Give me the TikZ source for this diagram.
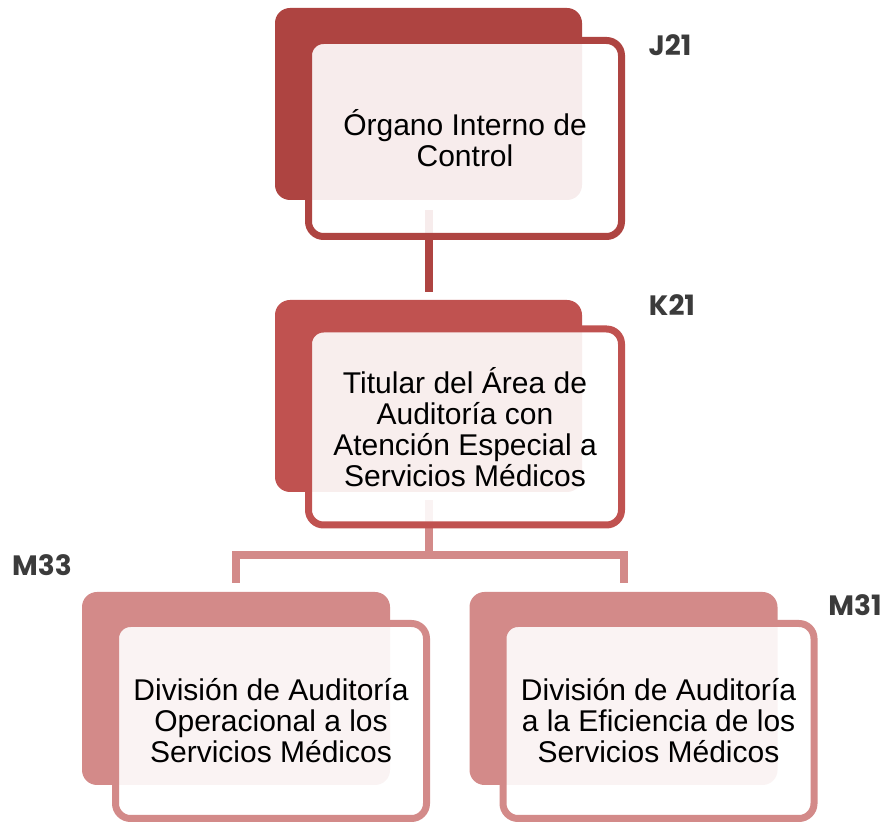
\documentclass[tikz,border=0pt]{standalone}
\usepackage{fontspec}
\setmainfont{Liberation Sans}
\newfontfamily\clavefont{Poppins}
\usetikzlibrary{backgrounds}
\definecolor{rojoA}{RGB}{174,68,65}
\definecolor{rojoB}{RGB}{192,82,80}
\definecolor{rojoC}{RGB}{211,138,137}
\definecolor{gristxt}{RGB}{59,59,59}
\tikzset{
  backbox/.style={rectangle, rounded corners=15pt, inner sep=0pt, outer sep=0pt,
    minimum width=307pt, minimum height=192pt},
  frontbox/.style={rectangle, rounded corners=15pt, line width=7pt, inner sep=0pt,
    outer sep=0pt, minimum width=313pt, minimum height=196pt,
    fill=white, fill opacity=0.9, text opacity=1, align=center,
    font=\fontsize{30}{31}\selectfont},
  link/.style={line width=8pt},
  clave/.style={text=gristxt, font=\clavefont\bfseries\fontsize{28}{30}\selectfont}
}
\begin{document}
\begin{tikzpicture}[x=1pt, y=1pt]
    \useasboundingbox (0,0) rectangle (889,824);
    % boxes
    \node[backbox, fill=rojoA] (oicb) at (428.5,720) {};
    \node[frontbox, draw=rojoA] (oic) at (465,685.5) {Órgano Interno de\\Control};
    \node[backbox, fill=rojoB] (titb) at (428.5,428) {};
    \node[frontbox, draw=rojoB] (tit) at (465,397)
        {Titular del Área de\\Auditoría con\\Atención Especial a\\Servicios Médicos};
    \node[backbox, fill=rojoC, minimum width=308pt, minimum height=193pt] (oplb) at (236,135.5) {};
    \node[frontbox, draw=rojoC, minimum width=311pt, minimum height=195pt] (opl) at (271,103)
        {División de Auditoría\\Operacional a los\\Servicios Médicos};
    \node[backbox, fill=rojoC, minimum width=308pt, minimum height=193pt] (efib) at (623.5,135.5) {};
    \node[frontbox, draw=rojoC, minimum width=311pt, minimum height=195pt] (efi) at (658.5,103)
        {División de Auditoría\\a la Eficiencia de los\\Servicios Médicos};
    % keys
    \node[clave] (j21) at (670,779) {J21};
    \node[clave] (k21) at (672,519) {K21};
    \node[clave] (m33) at (42,259) {M33};
    \node[clave] (m31) at (855,219) {M31};
    % connectors
    \begin{scope}[on background layer]
        \coordinate (ramal) at (428.5,269);
        \draw[link, rojoA] ([yshift=-10pt]oicb.south) -- ([yshift=8pt]titb.north);
        \draw[link, rojoC] ([yshift=-8pt]titb.south) -- (ramal);
        \draw[link, rojoC] ([yshift=9pt]oplb.north) |- (ramal) -| ([yshift=9pt]efib.north);
    \end{scope}
\end{tikzpicture}
\end{document}
